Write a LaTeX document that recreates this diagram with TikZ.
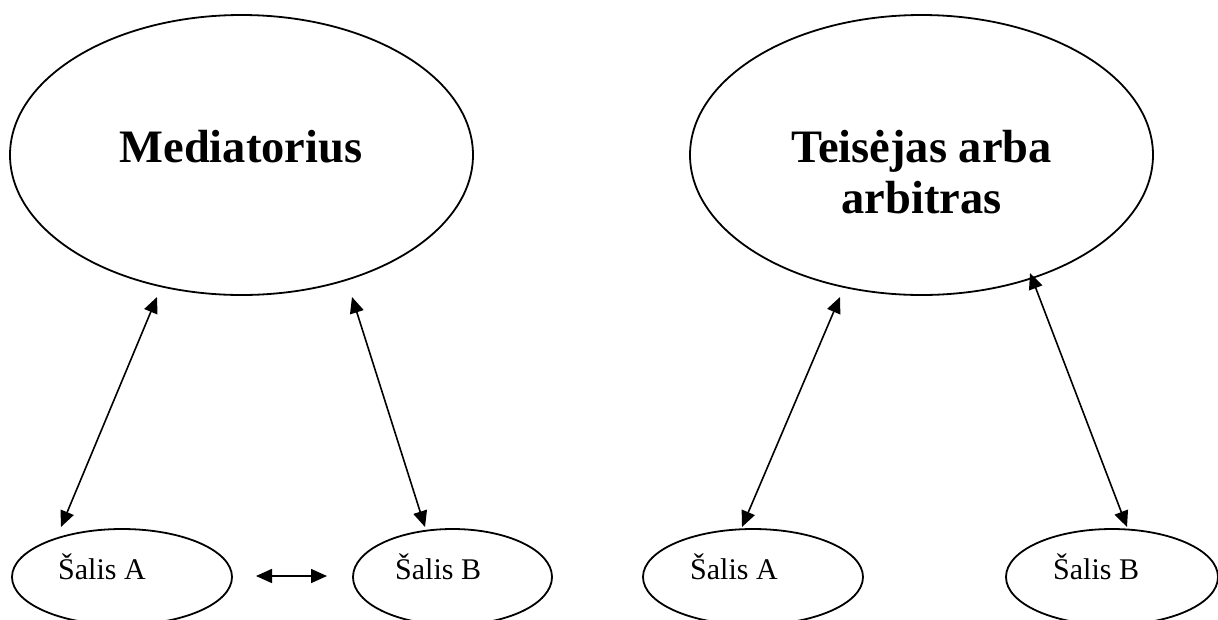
\documentclass[tikz,border=0pt]{standalone}
\usepackage{fontspec}
\setmainfont{Liberation Serif}
\usetikzlibrary{arrows.meta,shapes.geometric}
\tikzset{
  bigell/.style={draw, ellipse, line width=1.8pt, minimum width=463pt, minimum height=280pt, inner sep=0pt},
  smallell/.style={draw, ellipse, line width=1.8pt, minimum height=96pt, inner sep=0pt},
  bigtxt/.style={font=\fontsize{46.5}{51}\selectfont\bfseries, align=center, inner sep=0pt},
  smalltxt/.style={font=\fontsize{30}{36}\selectfont, inner sep=0pt, anchor=base west},
  conn/.style={line width=1.6pt, {Triangle[length=16pt,width=14pt]}-{Triangle[length=16pt,width=14pt]}},
}
\begin{document}
\begin{tikzpicture}[x=1pt,y=-1pt]
\useasboundingbox (0,0) rectangle (1218,619);
% big ellipses
\node[bigell] (med) at (241.5,155) {};
\node[bigtxt, anchor=base] (medT) at (241,162) {Mediatorius};
\node[bigell] (arb) at (921.5,155) {};
\node[bigtxt, anchor=base] (arbT) at (921.5,213) {Teisėjas arba\\arbitras};
% small ellipses
\node[smallell, minimum width=220pt] (la) at (122,577) {};
\node[smalltxt] (laT) at (58,579) {Šalis A};
\node[smallell, minimum width=199pt] (lb) at (452.5,577) {};
\node[smalltxt] (lbT) at (395,579) {Šalis B};
\node[smallell, minimum width=220pt] (ra) at (753,577) {};
\node[smalltxt] (raT) at (690,579) {Šalis A};
\node[smallell, minimum width=212pt] (rb) at (1112,577) {};
\node[smalltxt] (rbT) at (1053,579) {Šalis B};
% connector ends
\coordinate (l1t) at (157,297);
\coordinate (l1b) at (61,527);
\coordinate (l2t) at (352,297);
\coordinate (l2b) at (425,527);
\coordinate (mL) at (256,576);
\coordinate (mR) at (327,576);
\coordinate (r1t) at (840,297);
\coordinate (r1b) at (742,527);
\coordinate (r2t) at (1030,273);
\coordinate (r2b) at (1127,527);
\draw[conn] (l1t) -- (l1b);
\draw[conn] (l2t) -- (l2b);
\draw[conn] (mL) -- (mR);
\draw[conn] (r1t) -- (r1b);
\draw[conn] (r2t) -- (r2b);
\end{tikzpicture}
\end{document}
